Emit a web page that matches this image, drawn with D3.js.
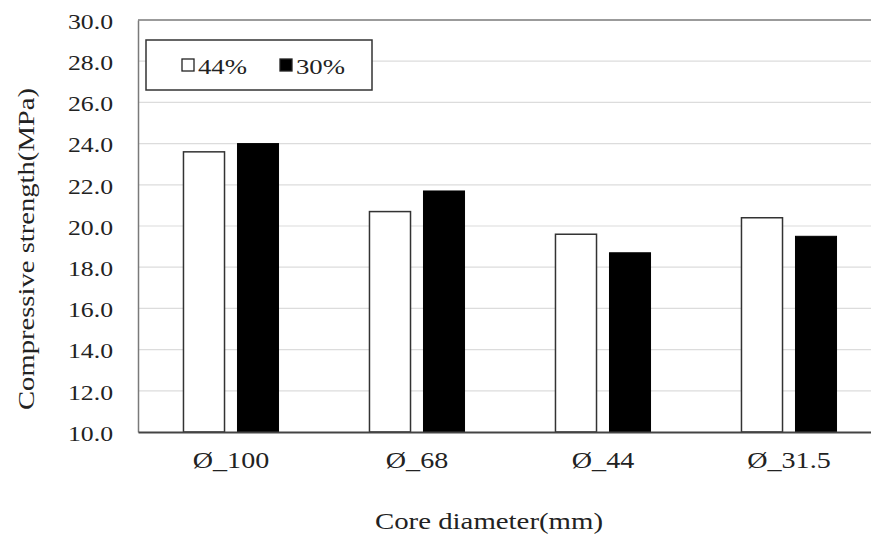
<!DOCTYPE html>
<html>
<head>
<meta charset="utf-8">
<script src="https://cdn.jsdelivr.net/npm/d3@7"></script>
<style>
  html, body { margin: 0; padding: 0; background: #fff; }
  svg { display: block; }
</style>
</head>
<body>
<svg id="chart" width="871" height="536"></svg>
<script>
const categories = ["Ø_100", "Ø_68", "Ø_44", "Ø_31.5"];
const seriesNames = ["44%", "30%"];
const values44 = [23.6, 20.7, 19.6, 20.4];
const values30 = [24.0, 21.7, 18.7, 19.5];
const yTicks = [10, 12, 14, 16, 18, 20, 22, 24, 26, 28, 30];
const seriesColors = ["#ffffff", "#000000"];

const FONT = "Liberation Serif";
const svg = d3.select("#chart");
const mLeft = 138, mRight = 882, mTop = 20, mBottom = 432;

// horizontally stretch text (the reference glyphs are wider than the font)
function stretch(sel, k) {
  sel.each(function () {
    const w = this.getComputedTextLength();
    d3.select(this).attr("textLength", w * k).attr("lengthAdjust", "spacingAndGlyphs");
  });
}

const x = d3.scaleBand().domain(categories).range([mLeft, mRight]).paddingInner(0).paddingOuter(0);
const x1 = d3.scaleBand().domain(seriesNames).range([0, x.bandwidth()]).paddingInner(0.24).paddingOuter(0.842);
const y = d3.scaleLinear().domain([10, 30]).range([mBottom, mTop]);

// gridlines
svg.append("g").selectAll("line").data(yTicks.slice(1)).join("line")
  .attr("x1", mLeft).attr("x2", 871)
  .attr("y1", d => y(d)).attr("y2", d => y(d))
  .attr("stroke", d => d === 30 ? "#7a7a7a" : "#dcdcdc")
  .attr("stroke-width", d => d === 30 ? 1.5 : 1.2);

// y axis
const yAxis = d3.axisLeft(y).tickValues(yTicks).tickFormat(d3.format(".1f")).tickSize(0).tickPadding(25);
const gy = svg.append("g").attr("transform", `translate(${mLeft},0)`).call(yAxis);
gy.select(".domain").attr("stroke", "#7a7a7a").attr("stroke-width", 1.5);
gy.selectAll("text").style("font-family", FONT).style("font-size", "22px").attr("fill", "#222").attr("dy", "0.38em");
stretch(gy.selectAll("text"), 1.17);

// bars
const data = categories.map((c, i) => ({ c, vals: [values44[i], values30[i]] }));
const g = svg.append("g");
data.forEach(d => {
  d.vals.forEach((v, j) => {
    g.append("rect")
      .attr("x", x(d.c) + x1(seriesNames[j]))
      .attr("y", y(v))
      .attr("width", x1.bandwidth())
      .attr("height", y(10) - y(v))
      .attr("fill", seriesColors[j])
      .attr("stroke", j === 0 ? "#333" : "#000")
      .attr("stroke-width", j === 0 ? 1.5 : 1);
  });
});

// x axis
const xAxis = d3.axisBottom(x).tickSize(0).tickPadding(20);
const gx = svg.append("g").attr("transform", `translate(0,${mBottom})`).call(xAxis);
gx.select(".domain").attr("stroke", "#444").attr("stroke-width", 1.8);
gx.selectAll("text").style("font-family", FONT).style("font-size", "23px").attr("fill", "#222");
stretch(gx.selectAll("text"), 1.22);

// axis titles
svg.append("text")
  .attr("x", 489).attr("y", 529)
  .attr("text-anchor", "middle")
  .style("font-family", FONT).style("font-size", "24px").attr("fill", "#222")
  .attr("textLength", 228).attr("lengthAdjust", "spacingAndGlyphs")
  .text("Core diameter(mm)");

svg.append("text")
  .attr("transform", "translate(34,249) rotate(-90)")
  .attr("text-anchor", "middle")
  .style("font-family", FONT).style("font-size", "24px").attr("fill", "#222")
  .attr("textLength", 322).attr("lengthAdjust", "spacingAndGlyphs")
  .text("Compressive strength(MPa)");

// legend
const lg = svg.append("g");
lg.append("rect").attr("x", 146).attr("y", 40).attr("width", 226).attr("height", 50)
  .attr("fill", "#fff").attr("stroke", "#333").attr("stroke-width", 1.5);
const legendX = [182, 280];
seriesNames.forEach((s, j) => {
  lg.append("rect").attr("x", legendX[j]).attr("y", 59).attr("width", 12).attr("height", 12)
    .attr("fill", seriesColors[j]).attr("stroke", "#222").attr("stroke-width", 1.3);
  lg.append("text").attr("x", legendX[j] + 16).attr("y", 74)
    .style("font-family", FONT).style("font-size", "22px").attr("fill", "#222")
    .attr("textLength", 49).attr("lengthAdjust", "spacingAndGlyphs")
    .text(s);
});
</script>
</body>
</html>
